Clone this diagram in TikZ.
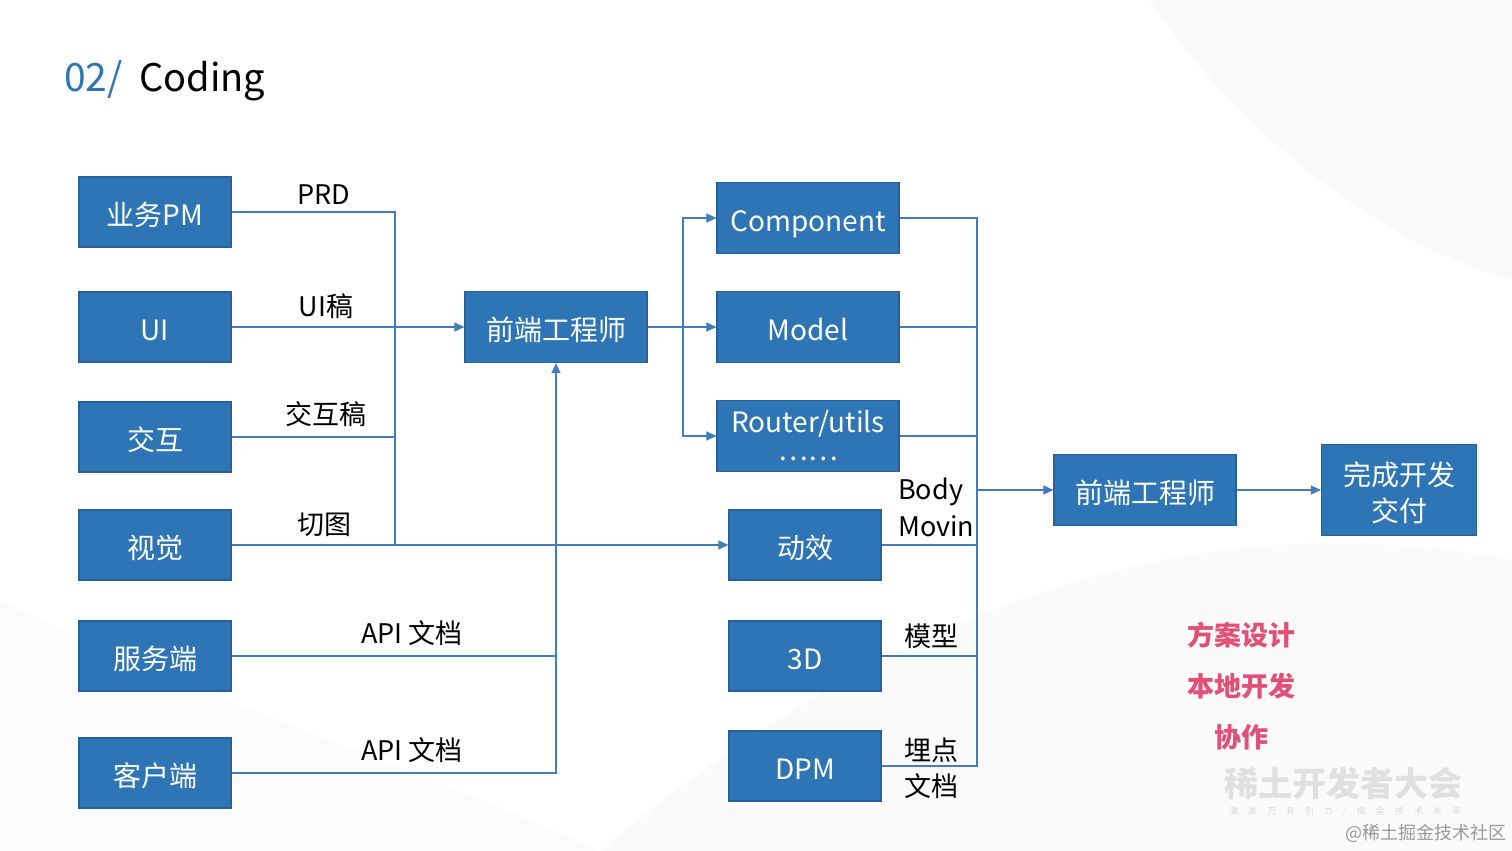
\documentclass[tikz,border=0pt]{standalone}
\usepackage{fontspec}
\setmainfont{Noto Sans CJK SC}
\usetikzlibrary{arrows.meta}
\definecolor{boxblue}{RGB}{46,117,182}
\definecolor{boxedge}{RGB}{40,96,158}
\definecolor{lineblue}{RGB}{64,124,190}
\definecolor{pinkred}{RGB}{226,80,120}
\tikzset{
  box/.style={draw=boxedge, line width=1.2pt, fill=boxblue, text=white, inner sep=0pt,
    font=\fontsize{28}{34}\selectfont, align=center, text height=29pt, text depth=2pt},
  multi/.style={text height={}, text depth={}},
  wide/.style={box, minimum width=182, minimum height=71},
  narrow/.style={box, minimum width=152, minimum height=70},
  ln/.style={draw=lineblue, line width=1.3pt},
  arr/.style={-{Triangle[length=10pt,width=9pt]}},
  lbl/.style={font=\fontsize{27}{33}\selectfont, text=black, inner sep=0pt},
  pink/.style={font=\fontsize{27}{33}\selectfont\bfseries, text=pinkred, inner sep=0pt},
}
\begin{document}
\begin{tikzpicture}[x=1pt,y=-1pt]
\useasboundingbox (0,0) rectangle (1512,851);
\fill[white] (0,0) rectangle (1512,851);
% faint background swooshes
\fill[black!2.5] (1150,0) .. controls (1250,150) and (1400,250) .. (1512,280) -- (1512,0) -- cycle;
\fill[black!2] (600,851) .. controls (900,600) and (1200,500) .. (1512,560) -- (1512,851) -- cycle;
\fill[black!1.5] (0,600) .. controls (200,700) and (400,760) .. (600,851) -- (0,851) -- cycle;

% title
\node[anchor=base west, inner sep=0pt, text=boxblue, font=\fontsize{39}{46}\selectfont] (t1) at (64,92) {02/};
\node[anchor=base west, inner sep=0pt, text=black, font=\fontsize{38}{46}\selectfont] (t2) at (139,92) {Coding};

% left column
\node[narrow] (pm) at (155,212) {业务PM};
\node[narrow] (ui) at (155,327) {UI};
\node[narrow] (jh) at (155,437) {交互};
\node[narrow] (sj) at (155,545) {视觉};
\node[narrow] (fw) at (155,656) {服务端};
\node[narrow] (kh) at (155,773) {客户端};

% middle
\node[wide] (fe1) at (556,327) {前端工程师};
\node[wide] (comp) at (808,218) {Component};
\node[wide] (model) at (808,327) {Model};
\node[wide, multi] (router) at (808,436) {Router/utils\\[-6pt]……};
\node[narrow] (dx) at (805,545) {动效};
\node[narrow] (d3) at (805,656) {3D};
\node[narrow] (dpm) at (805,766) {DPM};

% right
\node[wide] (fe2) at (1145,490) {前端工程师};
\node[box, multi, minimum width=155, minimum height=91] (done) at (1399,490) {\rule{0pt}{30pt}完成开发\\[2pt]交付};

% junction coordinates
\coordinate (v1top) at (395,212);
\coordinate (v1bot) at (395,545);
\coordinate (v2bot) at (556,773);
\coordinate (b1) at (683,327);
\coordinate (v3top) at (977,218);
\coordinate (v3bot) at (977,766);

% left connectors
\draw[ln] (pm.east) -- (v1top) -- (v1bot);
\draw[ln,arr] (ui.east) -- (fe1.west);
\draw[ln] (jh.east) -- (jh.east -| v1top);
\draw[ln,arr] (sj.east) -- (dx.west);
\draw[ln] (fw.east) -- (fw.east -| v2bot);
\draw[ln,arr] (kh.east) -- (v2bot) -- (fe1.south);

% middle connectors
\draw[ln,arr] (fe1.east) -- (model.west);
\draw[ln,arr] (b1) |- (comp.west);
\draw[ln,arr] (b1) |- (router.west);

% right collector
\draw[ln] (comp.east) -- (v3top) -- (v3bot) -- (dpm.east);
\draw[ln] (model.east) -- (model.east -| v3top);
\draw[ln] (router.east) -- (router.east -| v3top);
\draw[ln] (dx.east) -- (dx.east -| v3top);
\draw[ln] (d3.east) -- (d3.east -| v3top);
\draw[ln,arr] (fe2.west -| v3top) -- (fe2.west);
\draw[ln,arr] (fe2.east) -- (done.west);

% labels
\node[lbl] (lprd) at (324,195) {PRD};
\node[lbl] (lui) at (326,306) {UI稿};
\node[lbl] (ljh) at (326,414) {交互稿};
\node[lbl] (lqt) at (324,525) {切图};
\node[lbl] (lapi1) at (412,633) {API 文档};
\node[lbl] (lapi2) at (412,750) {API 文档};
\node[lbl, anchor=west] (lbody) at (898,492) {Body};
\node[lbl, anchor=west] (lmovin) at (898,526) {Movin};
\node[lbl] (lmx) at (931,636) {模型};
\node[lbl] (lmd) at (931,750) {埋点};
\node[lbl] (lwd) at (931,786) {文档};

% pink notes
\node[pink] (p1) at (1241,635) {方案设计};
\node[pink] (p2) at (1241,686) {本地开发};
\node[pink] (p3) at (1241,737) {协作};

% watermark
\node[inner sep=0pt, text=black!12, font=\fontsize{34}{40}\selectfont\bfseries] (w1) at (1343,784) {稀土开发者大会};
\node[inner sep=0pt, text=black!14, font=\fontsize{9}{11}\selectfont] (w2) at (1345,811) {激\hspace{10pt}发\hspace{10pt}万\hspace{10pt}有\hspace{10pt}引\hspace{10pt}力\hspace{10pt}/\hspace{10pt}掘\hspace{10pt}金\hspace{10pt}技\hspace{10pt}术\hspace{10pt}未\hspace{10pt}来};
\node[inner sep=0pt, text=black!40, font=\fontsize{18}{22}\selectfont] (w3) at (1426,833) {@稀土掘金技术社区};
\end{tikzpicture}
\end{document}
